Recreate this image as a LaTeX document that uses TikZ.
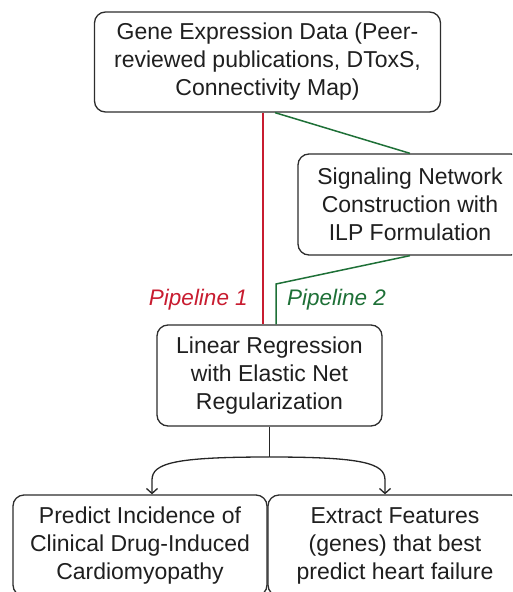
\documentclass[tikz,border=0pt]{standalone}
\usepackage{fontspec}
\setmainfont{Liberation Sans}
\usetikzlibrary{arrows.meta}
\definecolor{pred}{RGB}{200,28,48}
\definecolor{pgreen}{RGB}{30,112,55}
\definecolor{boxline}{RGB}{45,45,45}
\begin{document}
\begin{tikzpicture}[x=1pt,y=-1pt,
  box/.style={draw=boxline,line width=1.3pt,rounded corners=11pt,fill=white,
    inner sep=0pt,align=center,font=\fontsize{23}{28}\selectfont,text=black!88},
  lbl/.style={font=\fontsize{22.5}{27}\selectfont\itshape,inner sep=0pt},
  conn/.style={line width=1.3pt,draw=black!85},
  arr/.style={conn,-{Straight Barb[length=5pt,width=11pt,line width=1.3pt]}}]
\useasboundingbox (0,0) rectangle (512,592);
\begin{scope}
\clip (0,0) rectangle (512,592);
\node[box,minimum width=346pt,minimum height=100pt] (top) at (267.5,62)
  {Gene Expression Data (Peer-\\reviewed publications, DToxS,\\Connectivity Map)};
\node[box,minimum width=224pt,minimum height=101pt] (sig) at (410,204.5)
  {Signaling Network\\Construction with\\ILP Formulation};
\node[box,minimum width=225pt,minimum height=101pt] (lin) at (269.5,375.5)
  {Linear Regression\\with Elastic Net\\Regularization};
\node[box,minimum width=254pt,minimum height=101pt] (left) at (140,545.5)
  {Predict Incidence of\\Clinical Drug-Induced\\Cardiomyopathy};
\node[box,minimum width=254pt,minimum height=101pt] (right) at (395,545.5)
  {Extract Features\\(genes) that best\\predict heart failure};

\coordinate (redx) at (263,0);
\coordinate (gx) at (275,0);
\coordinate (gbend) at (276,284);
\coordinate (split) at (269.5,457);
\coordinate (la) at (152,0);
\coordinate (ra) at (385,0);

\draw[pred,line width=1.5pt] (top.south -| redx) -- (lin.north -| redx);
\draw[pgreen,line width=1.5pt] (top.south -| gx) -- (sig.north);
\draw[pgreen,line width=1.5pt] (sig.south) -- (gbend) -- (lin.north -| gbend);

\node[lbl,text=pred,anchor=base east] (p1) at (248,305) {Pipeline 1};
\node[lbl,text=pgreen,anchor=base west] (p2) at (287,305) {Pipeline 2};

\draw[conn] (lin.south) -- (split);
\draw[arr] (split) .. controls (175,457) and (152,463) .. (152,480) -- (left.north -| la);
\draw[arr] (split) .. controls (362,457) and (385,463) .. (385,480) -- (right.north -| ra);
\end{scope}
\end{tikzpicture}
\end{document}
